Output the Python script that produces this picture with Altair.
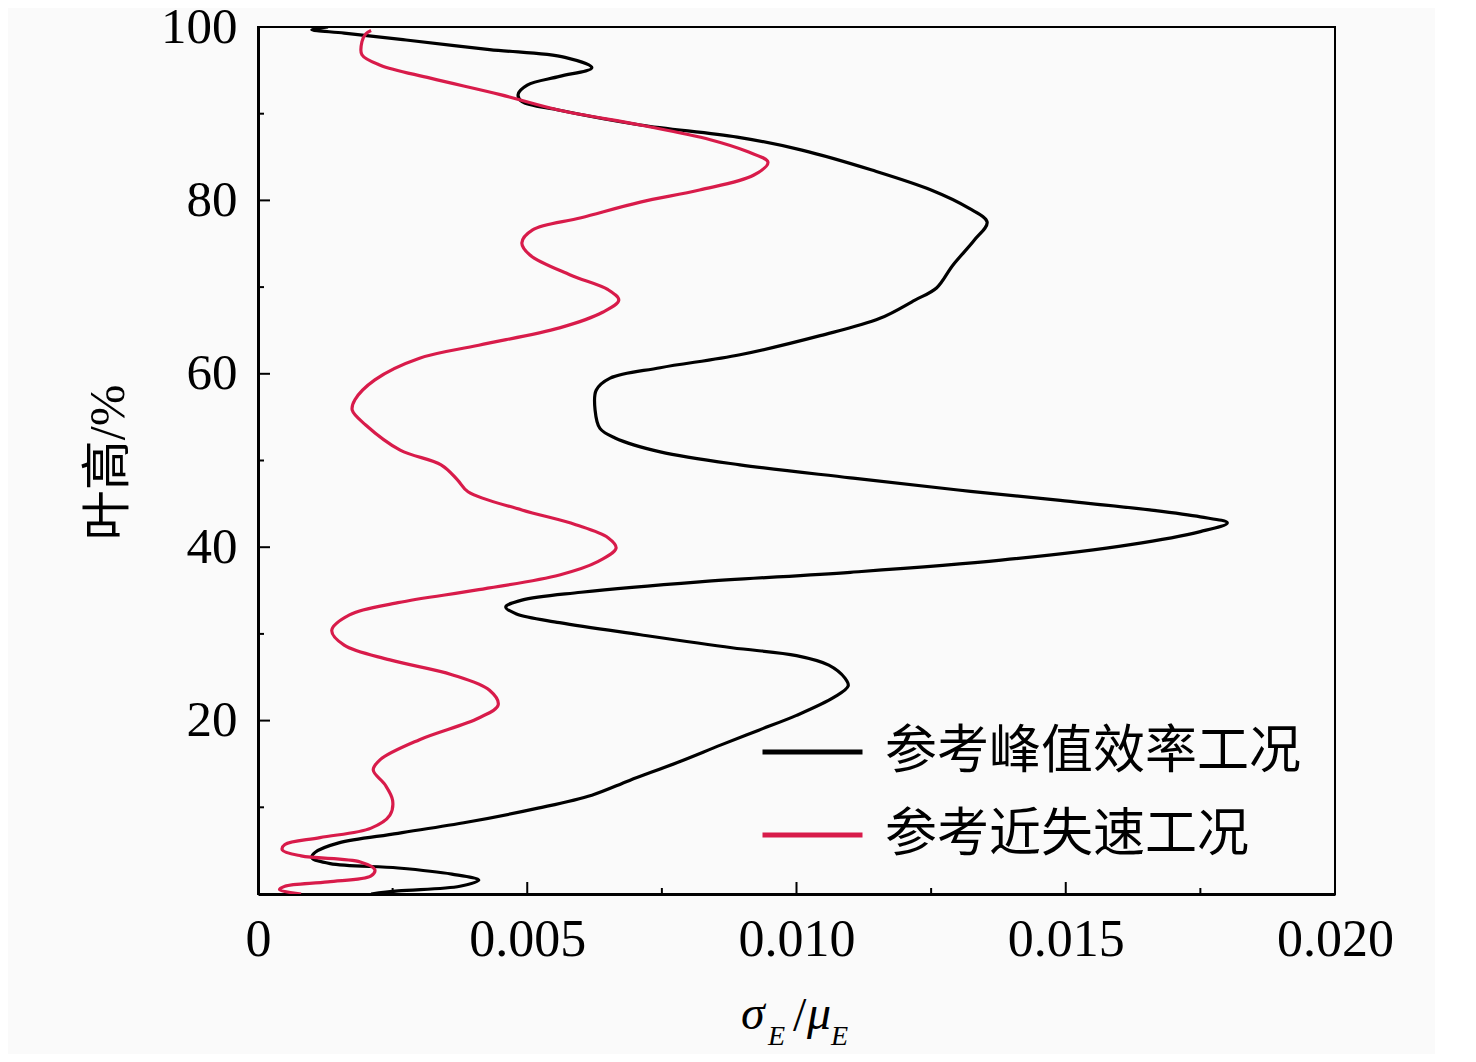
import altair as alt
import pandas as pd

# ---- data ----
series_names = ["参考峰值效率工况", "参考近失速工况"]

black_h = [100.0, 99.7, 99.3, 98.5, 97.4, 96.5, 95.3, 94.3, 93.3, 92.2, 91.4, 90.4, 88.7, 87.3,
           85.8, 83.5, 81.2, 79.1, 77.5, 75.4, 72.5, 69.9, 68.5, 66.4, 64.4, 62.2, 60.7, 59.5,
           58.1, 55.8, 53.7, 52.6, 51.0, 49.5, 48.0, 46.6, 45.4, 44.3, 43.5, 42.8, 41.8, 40.3,
           38.5, 37.1, 36.0, 34.8, 33.9, 33.1, 32.3, 31.3, 29.9, 28.4, 27.5, 26.4, 24.9, 24.0,
           22.7, 20.6, 18.9, 17.2, 15.2, 13.1, 11.4, 9.9, 8.3, 7.0, 5.9, 4.8, 4.2, 3.5, 3.0,
           2.3, 1.6, 0.9, 0.35, 0.0]
black_v = [0.0013, 0.0010, 0.0016, 0.00275, 0.0043, 0.0057, 0.0062, 0.0056, 0.0050, 0.00483,
           0.0049, 0.0056, 0.0071, 0.0089, 0.0101, 0.0114, 0.0125, 0.0132, 0.01354, 0.0133,
           0.0129, 0.0126, 0.0122, 0.01155, 0.01044, 0.00895, 0.00747, 0.00654, 0.00628,
           0.00626, 0.00635, 0.00663, 0.00747, 0.00895, 0.0110, 0.0130, 0.0149, 0.01656,
           0.0175, 0.0180, 0.0175, 0.0162, 0.0138, 0.0110, 0.0082, 0.0060, 0.0049, 0.0046,
           0.0048, 0.0056, 0.0071, 0.0088, 0.0100, 0.0106, 0.0109, 0.01096, 0.0107, 0.0100,
           0.0093, 0.0086, 0.0078, 0.0069, 0.0062, 0.0052, 0.0039, 0.0026, 0.0015, 0.00106,
           0.0010, 0.00134, 0.0026, 0.0036, 0.0041, 0.00375, 0.0026, 0.0021]

red_h = [99.6, 99.2, 98.3, 96.8, 95.6, 94.1, 92.2, 90.4, 88.7, 87.0, 85.6, 84.4, 82.9, 81.2,
         79.8, 78.0, 76.6, 75.1, 73.7, 71.4, 69.7, 68.5, 67.1, 65.3, 63.3, 61.8, 59.3, 57.0,
         55.8, 54.1, 51.2, 49.5, 47.8, 46.4, 44.3, 42.6, 41.1, 39.9, 38.3, 36.8, 35.1, 33.6,
         32.2, 30.4, 28.7, 27.0, 25.3, 23.5, 21.8, 20.3, 17.8, 15.5, 14.3, 12.6, 10.8, 9.1,
         7.6, 6.5, 5.7, 5.1, 4.4, 3.7, 2.8, 2.1, 1.4, 0.9, 0.5, 0.0]
red_v = [0.0021, 0.0020, 0.00193, 0.00193, 0.00227, 0.0032, 0.0045, 0.0056, 0.0071, 0.0084,
         0.0091, 0.00947, 0.0092, 0.0082, 0.0071, 0.0060, 0.0051, 0.0049, 0.00505, 0.0058,
         0.0065, 0.0067, 0.0064, 0.0056, 0.0041, 0.0030, 0.00217, 0.0018, 0.00175, 0.0020,
         0.00264, 0.0034, 0.0037, 0.0039, 0.0049, 0.0059, 0.0065, 0.00665, 0.0063, 0.0056,
         0.0041, 0.0026, 0.0017, 0.00137, 0.0016, 0.00245, 0.0036, 0.0043, 0.00446, 0.0041,
         0.0030, 0.00227, 0.00214, 0.00236, 0.0025, 0.00245, 0.0021, 0.00115, 0.0005,
         0.00045, 0.0008, 0.0019, 0.00217, 0.0021, 0.0013, 0.0005, 0.0004, 0.0008]

x_major = [0, 0.005, 0.010, 0.015, 0.020]
x_minor = [0.0025, 0.0075, 0.0125, 0.0175]
y_major = [0, 20, 40, 60, 80, 100]
y_minor = [10, 30, 50, 70, 90]

# ---- build tables ----
rows = []
for i, (h, v) in enumerate(zip(black_h, black_v)):
    rows.append({"series": series_names[0], "h": h, "v": v, "idx": i})
for i, (h, v) in enumerate(zip(red_h, red_v)):
    rows.append({"series": series_names[1], "h": h, "v": v, "idx": i})
df = pd.DataFrame(rows)

W, H = 1077, 867
SERIF = "Liberation Serif"
CJK = "Liberation Serif, Noto Sans CJK SC"
RED = "#d81b4a"

xscale = alt.Scale(domain=[0, 0.02], nice=False, zero=False)
yscale = alt.Scale(domain=[0, 100], nice=False, zero=False)

xaxis = alt.Axis(values=x_major, title=None, ticks=False, grid=False,
                 labelExpr="datum.value == 0 ? '0' : format(datum.value, '.3f')",
                 labelFont=SERIF, labelFontSize=52, labelColor="black",
                 labelPadding=20, labelFlush=False, labelOverlap=False,
                 domain=True, domainColor="black", domainWidth=3)
yaxis = alt.Axis(values=y_major, title="叶高/%", ticks=False, grid=False,
                 labelExpr="datum.value == 0 ? '' : datum.value",
                 labelFont=SERIF, labelFontSize=51, labelColor="black",
                 labelPadding=21, labelFlush=False, labelOverlap=False,
                 domain=True, domainColor="black", domainWidth=3,
                 titleFont=CJK, titleFontSize=50, titleFontWeight="normal",
                 titleColor="black", titleX=-150, titleY=435,
                 titleAlign="center", titleBaseline="middle", titleAngle=-90)

lines = alt.Chart(df).mark_line(interpolate="catmull-rom", strokeWidth=3.2, clip=True).encode(
    x=alt.X("v:Q", scale=xscale, axis=xaxis),
    y=alt.Y("h:Q", scale=yscale, axis=yaxis),
    color=alt.Color("series:N",
                    scale=alt.Scale(domain=series_names, range=["black", RED]),
                    legend=alt.Legend(title=None, orient="none", legendX=502, legendY=695,
                                      symbolType="stroke", symbolSize=10000,
                                      symbolStrokeWidth=5, clipHeight=60, rowPadding=23,
                                      labelFont=CJK, labelFontSize=52, labelColor="black",
                                      labelOffset=20, labelLimit=0, padding=0)),
    order=alt.Order("idx:Q"),
)

xmaj = alt.Chart(pd.DataFrame({"v": x_major})).mark_rule(color="black", strokeWidth=2).encode(
    x=alt.X("v:Q", scale=xscale, axis=xaxis), y=alt.value(H), y2=alt.value(H - 12))
xmin = alt.Chart(pd.DataFrame({"v": x_minor})).mark_rule(color="black", strokeWidth=2).encode(
    x=alt.X("v:Q", scale=xscale, axis=xaxis), y=alt.value(H), y2=alt.value(H - 6))
ymaj = alt.Chart(pd.DataFrame({"h": y_major})).mark_rule(color="black", strokeWidth=2).encode(
    y=alt.Y("h:Q", scale=yscale, axis=yaxis), x=alt.value(0), x2=alt.value(12))
ymin = alt.Chart(pd.DataFrame({"h": y_minor})).mark_rule(color="black", strokeWidth=2).encode(
    y=alt.Y("h:Q", scale=yscale, axis=yaxis), x=alt.value(0), x2=alt.value(6))

# ---- x-axis title  σ_E / μ_E ----
def piece(txt, px, py, size, style):
    return alt.Chart(pd.DataFrame({"s": [txt]})).mark_text(
        font=SERIF, fontSize=size, fontStyle=style, align="left", baseline="alphabetic",
        color="black", clip=False).encode(text="s:N", x=alt.value(px), y=alt.value(py))

title_parts = (piece("σ", 483, 1002, 48, "italic")
               + piece("E", 510, 1018, 28, "italic")
               + piece("/", 535, 1004, 48, "normal")
               + piece("μ", 549, 1002, 48, "italic")
               + piece("E", 573, 1018, 28, "italic"))

chart = alt.layer(lines, xmaj, xmin, ymaj, ymin, title_parts).properties(
    width=W, height=H,
    autosize=alt.AutoSizeParams(type="none"),
    padding={"left": 250, "top": 19, "right": 100, "bottom": 160},
    background="#fafafa",
).configure_view(stroke="black", strokeWidth=2)

chart.save("out.html", embed_options={"renderer": "svg", "actions": False})
